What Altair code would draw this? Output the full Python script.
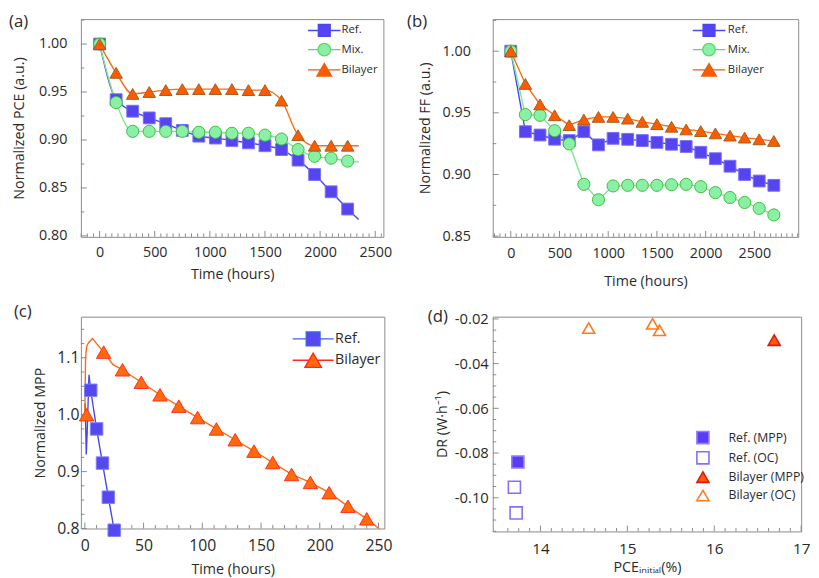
import altair as alt
import pandas as pd

FONT = "Open Sans"
TXT = "#2a2a2a"
FRAME = "#8a8a8a"

SERIES = ["Ref.", "Mix.", "Bilayer"]
PANEL_LABELS = ["(a)", "(b)", "(c)", "(d)"]

# ---------------- (a) Normalized PCE ----------------
a_time = [0, 150, 300, 450, 600, 750, 900, 1050, 1200, 1350, 1500, 1650, 1800, 1950, 2100, 2250]
a_ref = [1.000, 0.942, 0.930, 0.923, 0.917, 0.910, 0.904, 0.902, 0.8995, 0.897, 0.894, 0.890, 0.879, 0.864, 0.846, 0.828]
a_mix = [1.000, 0.939, 0.909, 0.909, 0.909, 0.909, 0.908, 0.908, 0.907, 0.907, 0.905, 0.901, 0.890, 0.883, 0.881, 0.878]
a_bil = [1.000, 0.970, 0.948, 0.950, 0.952, 0.953, 0.953, 0.953, 0.953, 0.952, 0.952, 0.941, 0.905, 0.894, 0.894, 0.894]
a_line_end_time = 2350
a_line_end = [0.817, 0.877, 0.894]

# ---------------- (b) Normalized FF ----------------
b_time = [0, 150, 300, 450, 600, 750, 900, 1050, 1200, 1350, 1500, 1650, 1800, 1950, 2100, 2250, 2400, 2550, 2700]
b_ref = [1.000, 0.9347, 0.932, 0.9286, 0.9275, 0.9347, 0.924, 0.9293, 0.9285, 0.9275, 0.926, 0.9245, 0.9227,
         0.918, 0.9128, 0.9067, 0.900, 0.8947, 0.8912]
b_mix = [1.000, 0.9486, 0.948, 0.9355, 0.9248, 0.892, 0.8795, 0.8907, 0.8912, 0.8912, 0.8912, 0.8917, 0.892,
         0.8901, 0.8853, 0.8813, 0.8773, 0.8725, 0.8672]
b_bil = [1.000, 0.9734, 0.9568, 0.948, 0.940, 0.9446, 0.9467, 0.9467, 0.9453, 0.9427, 0.9408, 0.9387, 0.9365,
         0.9352, 0.9333, 0.9315, 0.9299, 0.9285, 0.9272]

# ---------------- (c) Normalized MPP ----------------
C_SERIES = ["Ref.", "Bilayer"]
c_ref_time = [5, 10, 15, 20, 25]
c_ref = [1.043, 0.975, 0.915, 0.855, 0.797]
c_bil_time = [1.5, 16, 32, 48, 64, 80, 96, 112, 128, 144, 160, 176, 192, 208, 224, 240]
c_bil = [1.000, 1.110, 1.079, 1.057, 1.035, 1.015, 0.995, 0.975, 0.956, 0.936, 0.916, 0.895, 0.881, 0.863, 0.839, 0.817]
c_ref_line_time = [0.3, 1.2, 2.0, 3.5, 5, 10, 15, 20, 25, 27]
c_ref_line = [1.02, 0.93, 0.97, 1.07, 1.043, 0.975, 0.915, 0.855, 0.797, 0.77]
c_bil_line_time = [0, 0.6, 1.5, 3, 6.5, 10, 16, 24, 32, 48, 64, 80, 96, 112, 128, 144, 160, 176, 192, 208, 224, 240, 255]
c_bil_line = [1.0, 1.10, 1.12, 1.126, 1.134, 1.125, 1.110, 1.088, 1.079, 1.057, 1.035, 1.015, 0.995, 0.975, 0.956,
              0.936, 0.916, 0.895, 0.881, 0.863, 0.839, 0.817, 0.792]

# ---------------- (d) DR vs PCE_initial ----------------
D_KINDS = ["Ref. (MPP)", "Ref. (OC)", "Bilayer (MPP)", "Bilayer (OC)"]
d_kind = ["Ref. (MPP)", "Ref. (OC)", "Ref. (OC)", "Bilayer (MPP)", "Bilayer (OC)", "Bilayer (OC)", "Bilayer (OC)"]
d_pce = [13.74, 13.70, 13.72, 16.69, 14.555, 15.29, 15.37]
d_dr = [-0.084, -0.0953, -0.1068, -0.0295, -0.0241, -0.0222, -0.0251]

# ---------------- styles ----------------
LINE_COL = ["#4646f0", "#7ee88e", "#ff6a10"]
FILL_COL = ["#5544f0", "#8af0a6", "#ff5a00"]
EDGE_COL = ["#7a70ff", "#3cc03c", "#a0601a"]
LEG_EDGE = ["#4a46f0", "#5cd86c", "#e8600e"]
SIZES = [144, 160, 215]
C_LINE_COL = ["#3f5ff0", "#ff1f1f"]
C_FILL_COL = ["#5548f0", "#ff6a0a"]
C_EDGE_COL = ["#8080ff", "#ff3020"]
C_LEG_EDGE = ["#3f5ff0", "#ff2a1a"]
D_FILL = ["#5a3cf5", "transparent", "#ff5a00", "transparent"]
D_EDGE = ["#8f80ff", "#8a6cf5", "#e01818", "#ff7a1f"]
D_SHAPE = ["square", "square", "triangle-up", "triangle-up"]
D_SIZE = [150, 150, 280, 280]

# legend symbols: a short line with the marker on it (unit square coordinates)
P_SQ = "M-3.3,0H-1.2M1.2,0H3.3M-1.2,-1.2H1.2V1.2H-1.2Z"
P_CI = "M-3.3,0H-1.27M1.27,0H3.3M1.27,0A1.27,1.27,0,1,1,-1.27,0A1.27,1.27,0,1,1,1.27,0Z"
P_TR = "M-3.3,0H-0.735M0.735,0H3.3M0,-1.27L1.47,1.27H-1.47Z"
P_SQ_C = "M-2.97,0H-1M1,0H2.97M-1,-1H1V1H-1Z"
P_TR_C = "M-2.97,0H-0.6M0.6,0H2.97M0,-1.04L1.2,1.04H-1.2Z"


def minors(step, lo, hi, every):
    out = []
    k = int(lo / step) - 1
    while k * step <= hi + 1e-9:
        v = k * step
        if lo < v <= hi and k % every != 0:
            out.append(round(v, 6))
        k += 1
    return out


def make_enc(chan, dom, title, values, fmt, lab_pad, title_pad, lab_size, expr=None):
    ax = dict(values=values, labelPadding=lab_pad, titlePadding=title_pad, tickSize=0, ticks=False,
              labelFontSize=lab_size, labelFlush=False, labelOverlap=False, domain=False, grid=False,
              titleFontWeight="normal", titleFontSize=14.5, titleFont=FONT, labelFont=FONT)
    if expr:
        ax["labelExpr"] = expr
    else:
        ax["format"] = fmt
    sc = alt.Scale(domain=dom, nice=False, zero=False)

    def f(field):
        if chan == "x":
            return alt.X(field + ":Q", scale=sc, axis=alt.Axis(**ax), title=title)
        return alt.Y(field + ":Q", scale=sc, axis=alt.Axis(**ax), title=title)
    return f


def tick_layers(X, Y, xmaj, xmin, ymaj, ymin, h):
    layers = []
    for vals, ln in ((xmaj, 6), (xmin, 3.5)):
        layers.append(alt.Chart(pd.DataFrame({"tv": vals})).mark_rule(color=FRAME, strokeWidth=1).encode(
            x=X("tv"), y=alt.value(h), y2=alt.value(h - ln)))
    for vals, ln in ((ymaj, 6), (ymin, 3.5)):
        layers.append(alt.Chart(pd.DataFrame({"tv": vals})).mark_rule(color=FRAME, strokeWidth=1).encode(
            y=Y("tv"), x=alt.value(0), x2=alt.value(ln)))
    return layers


def label_layer(text, x, y):
    return alt.Chart(pd.DataFrame({"lab": [text]})).mark_text(
        align="left", baseline="top", font=FONT, fontSize=17, color=TXT).encode(
        text="lab:N", x=alt.value(x), y=alt.value(y))


def time_panel(times_pts, pts_vals, line_times, line_vals, names, shapes, legend_paths,
               line_cols, fill_cols, edge_cols, leg_edges, sizes,
               X, Y, xmaj, xmin, ymaj, ymin, w, h, label, lab_xy, leg, interp):
    dl, dp = [], []
    for n, tt, vv in zip(names, line_times, line_vals):
        for t, v in zip(tt, vv):
            dl.append({"t": t, "v": v, "s": n})
    for n, tt, vv in zip(names, times_pts, pts_vals):
        for t, v in zip(tt, vv):
            dp.append({"t": t, "v": v, "s": n})
    dl = pd.DataFrame(dl)
    dp = pd.DataFrame(dp)
    lines = alt.Chart(dl).mark_line(strokeWidth=1.4, interpolate=interp, clip=True).encode(
        x=X("t"), y=Y("v"),
        color=alt.Color("s:N", scale=alt.Scale(domain=names, range=line_cols), legend=None))
    pts = alt.Chart(dp).mark_point(filled=True, opacity=1, strokeWidth=1).encode(
        x=X("t"), y=Y("v"),
        shape=alt.Shape("s:N", scale=alt.Scale(domain=names, range=shapes), legend=None),
        fill=alt.Fill("s:N", scale=alt.Scale(domain=names, range=fill_cols), legend=None),
        stroke=alt.Stroke("s:N", scale=alt.Scale(domain=names, range=edge_cols), legend=None),
        size=alt.Size("s:N", scale=alt.Scale(domain=names, range=sizes), legend=None))
    lx, ly, ssize, lsize, loff, rpad = leg
    legend = alt.Legend(orient="none", legendX=lx, legendY=ly, title=None, padding=0,
                        labelFont=FONT, labelFontSize=lsize, labelColor=TXT, labelOffset=loff,
                        symbolSize=ssize, rowPadding=rpad, symbolStrokeWidth=1.4, symbolOpacity=1)
    # legend-only layer: no rows pass the filter, the legend comes from the fixed domains
    leg_layer = alt.Chart(dp).transform_filter("false").mark_point(filled=True, opacity=1).encode(
        x=X("t"), y=Y("v"),
        shape=alt.Shape("s:N", scale=alt.Scale(domain=names, range=legend_paths), legend=legend),
        fill=alt.Fill("s:N", scale=alt.Scale(domain=names, range=fill_cols), legend=legend),
        stroke=alt.Stroke("s:N", scale=alt.Scale(domain=names, range=leg_edges), legend=legend))
    layers = tick_layers(X, Y, xmaj, xmin, ymaj, ymin, h) + [lines, pts, leg_layer, label_layer(label, *lab_xy)]
    return alt.layer(*layers).resolve_scale(
        shape="independent", fill="independent", stroke="independent", size="independent"
    ).properties(width=w, height=h)


# ---- panel (a)  plot area at (81, 14)
Xa = make_enc("x", [-169.6, 2574], "Time (hours)", [0, 500, 1000, 1500, 2000, 2500], "d", 9, 9, 14.5)
Ya = make_enc("y", [0.799, 1.026], "Normalized PCE (a.u.)", [0.80, 0.85, 0.90, 0.95, 1.00], ".2f", 14.3, 12, 14.5)
pa = time_panel(
    [a_time] * 3, [a_ref, a_mix, a_bil],
    [a_time + [a_line_end_time]] * 3,
    [a_ref + [a_line_end[0]], a_mix + [a_line_end[1]], a_bil + [a_line_end[2]]],
    SERIES, ["square", "circle", "triangle-up"], [P_SQ, P_CI, P_TR],
    LINE_COL, FILL_COL, EDGE_COL, LEG_EDGE, SIZES, Xa, Ya,
    [0, 500, 1000, 1500, 2000, 2500], minors(500 / 9, -169.6, 2574, 9),
    [0.80, 0.85, 0.90, 0.95, 1.00], minors(0.025, 0.799, 1.026, 2),
    307, 221, PANEL_LABELS[0], (-73, -5),
    (241, 5.5, 100, 11.5, 11.5, 0.5), "monotone")

# ---- panel (b)  plot area at (499, 14)
Xb = make_enc("x", [-185, 2950], "Time (hours)", [0, 500, 1000, 1500, 2000, 2500], "d", 10, 15, 14.5)
Yb = make_enc("y", [0.8494, 1.026], "Normalized FF (a.u.)", [0.85, 0.90, 0.95, 1.00], ".2f", 22.8, 10, 14.5)
pb = time_panel(
    [b_time] * 3, [b_ref, b_mix, b_bil],
    [b_time] * 3, [b_ref, b_mix, b_bil],
    SERIES, ["square", "circle", "triangle-up"], [P_SQ, P_CI, P_TR],
    LINE_COL, FILL_COL, EDGE_COL, LEG_EDGE, SIZES, Xb, Yb,
    [0, 500, 1000, 1500, 2000, 2500], minors(500 / 9, -185, 2950, 9),
    [0.85, 0.90, 0.95, 1.00], minors(0.025, 0.8494, 1.026, 2),
    310, 221, PANEL_LABELS[1], (-87, -5),
    (213.5, 5.5, 100, 11.5, 13.1, 0.5), "linear")

# ---- panel (c)  plot area at (81, 316)
Xc = make_enc("x", [-3.36, 255], "Time (hours)", [0, 50, 100, 150, 200, 250], "d", 9, 10, 16)
Yc = make_enc("y", [0.8, 1.1723], "Normalized MPP", [0.8, 0.9, 1.0, 1.1], ".1f", 2, 9, 16)
pc = time_panel(
    [c_ref_time, c_bil_time], [c_ref, c_bil],
    [c_ref_line_time, c_bil_line_time], [c_ref_line, c_bil_line],
    C_SERIES, ["square", "triangle-up"], [P_SQ_C, P_TR_C],
    C_LINE_COL, C_FILL_COL, C_EDGE_COL, C_LEG_EDGE, [160, 215], Xc, Yc,
    [0, 50, 100, 150, 200, 250], minors(10, 0, 255, 5),
    [0.8, 0.9, 1.0, 1.1], minors(0.025, 0.8, 1.1723, 4),
    308, 215, PANEL_LABELS[2], (-68, -13),
    (227.7, 14.5, 196, 14.5, 14.3, 0.7), "linear")

# ---- panel (d)  plot area at (499, 316)
MINUS = "\u2212"
Xd = make_enc("x", [13.451, 17.0], "PCE\u1d62\u2099\u1d62\u209c\u1d62\u2090\u2097(%)", [14, 15, 16, 17], "d", 10, 4, 15.5)
Yd = make_enc("y", [-0.1151, -0.01899], "DR (W\u00b7h\u207b\u00b9)", [-0.10, -0.08, -0.06, -0.04, -0.02], ".2f", 4.5, 5, 15,
              expr="replace(format(datum.value, '.2f'), '%s', '-')" % MINUS)
dd = pd.DataFrame({"x": d_pce, "y": d_dr, "k": d_kind})
leg_d = alt.Legend(orient="none", legendX=206.3, legendY=115.7, title=None, padding=0,
                   labelFont=FONT, labelFontSize=12.5, labelColor=TXT, labelOffset=19,
                   rowPadding=0.6, symbolStrokeWidth=1.6, symbolOpacity=1)
pts_d = alt.Chart(dd).mark_point(filled=True, opacity=1, strokeWidth=1.6).encode(
    x=Xd("x"), y=Yd("y"),
    shape=alt.Shape("k:N", scale=alt.Scale(domain=D_KINDS, range=D_SHAPE), legend=leg_d),
    fill=alt.Fill("k:N", scale=alt.Scale(domain=D_KINDS, range=D_FILL), legend=leg_d),
    stroke=alt.Stroke("k:N", scale=alt.Scale(domain=D_KINDS, range=D_EDGE), legend=leg_d),
    size=alt.Size("k:N", scale=alt.Scale(domain=D_KINDS, range=D_SIZE), legend=leg_d))
pdd = alt.layer(*(tick_layers(Xd, Yd, [14, 15, 16, 17], minors(0.125, 13.5, 17.0, 8),
                               [-0.10, -0.08, -0.06, -0.04, -0.02], minors(0.005, -0.1151, -0.01899, 4), 218)
                  + [pts_d, label_layer(PANEL_LABELS[3], -66, -8)])
                ).resolve_scale(shape="independent", fill="independent", stroke="independent", size="independent"
                                ).properties(width=313, height=218)

chart = alt.ConcatChart(
    concat=[pa, pb, pc, pdd], columns=2, align="none", bounds="flush",
    spacing={"row": 81, "column": 110}, padding=0,
).configure(font=FONT).configure_view(stroke=FRAME, strokeWidth=1).configure_axis(
    labelFont=FONT, titleFont=FONT, labelColor=TXT, titleColor=TXT, titleFontSize=14.5,
    titleFontWeight="normal").configure_legend(labelFont=FONT)

chart.save("out.html", embed_options={"renderer": "svg", "actions": False})
